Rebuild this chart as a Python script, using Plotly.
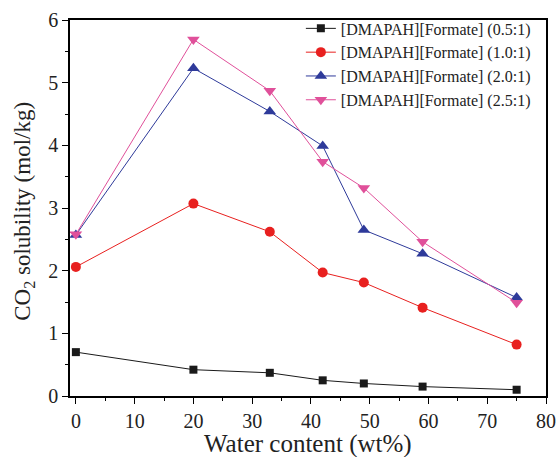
import plotly.graph_objects as go

water = [0, 20, 33, 42, 49, 59, 75]
s05 = [0.70, 0.42, 0.37, 0.25, 0.20, 0.15, 0.10]
s10 = [2.06, 3.07, 2.62, 1.97, 1.81, 1.41, 0.82]
s20 = [2.57, 5.23, 4.54, 3.99, 2.65, 2.27, 1.57]
s25 = [2.58, 5.69, 4.87, 3.74, 3.32, 2.46, 1.49]
names = ["[DMAPAH][Formate] (0.5:1)", "[DMAPAH][Formate] (1.0:1)",
         "[DMAPAH][Formate] (2.0:1)", "[DMAPAH][Formate] (2.5:1)"]
x_title = "Water content (wt%)"
y_title = "CO<sub>2</sub> solubility (mol/kg)"

series = [s05, s10, s20, s25]
colors = ["#1a1a1a", "#e8201f", "#2e3a9a", "#e0509a"]
symbols = ["square", "circle", "triangle-up", "triangle-down"]
sizes = [8, 10, 11, 11]

fig = go.Figure()
for ys, nm, c, sym, sz in zip(series, names, colors, symbols, sizes):
    fig.add_trace(go.Scatter(x=water, y=ys, name=nm, mode="lines+markers",
                             line=dict(color=c, width=1),
                             marker=dict(symbol=sym, size=sz, color=c)))

font = "Liberation Serif, Times New Roman, serif"
axis_common = dict(showline=True, linecolor="black", linewidth=1.5, mirror=True,
                   ticks="outside", ticklen=6, tickwidth=1.2, tickcolor="black",
                   showgrid=False, zeroline=False, automargin=False,
                   tickfont=dict(family=font, size=20, color="#222"))
fig.update_layout(
    width=559, height=457,
    margin=dict(l=70, r=13, t=19, b=61),
    plot_bgcolor="white", paper_bgcolor="white",
    font=dict(family=font, color="#222"),
    xaxis=dict(range=[-1, 80], tick0=0, dtick=10,
               minor=dict(ticks="outside", ticklen=3, tickcolor="black", dtick=5, tick0=0),
               **axis_common),
    yaxis=dict(range=[0, 6], tick0=0, dtick=1,
               minor=dict(ticks="outside", ticklen=3, tickcolor="black", dtick=0.5, tick0=0),
               **axis_common),
    legend=dict(x=0.485, y=1.02, xanchor="left", yanchor="top",
                bgcolor="rgba(0,0,0,0)", font=dict(family=font, size=16, color="#222"),
                tracegroupgap=0),
    annotations=[
        dict(text=x_title, xref="paper", yref="paper", x=0.5, y=-0.128,
             xanchor="center", yanchor="middle", showarrow=False,
             font=dict(family=font, size=25, color="#222")),
        dict(text=y_title, xref="paper", yref="paper", x=-0.0966, y=0.49,
             xanchor="center", yanchor="middle", showarrow=False, textangle=-90,
             font=dict(family=font, size=23, color="#222")),
    ],
)
fig.write_html("out.html", config={"displayModeBar": False},
               post_script="document.body.style.margin='0';")
